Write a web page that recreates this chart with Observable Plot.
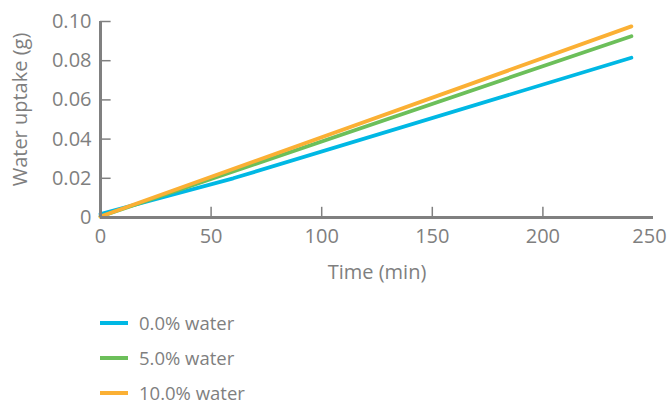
<!DOCTYPE html>
<html>
<head>
<meta charset="utf-8">
<script src="https://cdn.jsdelivr.net/npm/d3@7"></script>
<script src="https://cdn.jsdelivr.net/npm/@observablehq/plot@0.6"></script>
<style>
  html, body { margin: 0; padding: 0; background: #fff; }
  body { width: 669px; height: 405px; overflow: hidden; font-family: "Open Sans", "Noto Sans", sans-serif; }
  #chart svg { display: block; }
  #legend { margin-left: 100px; margin-top: 13px; }
  .item { display: flex; align-items: center; height: 35px; color: #7f7f7f; font-size: 18.5px; }
  .sw { width: 28px; height: 4px; margin-right: 11px; }
</style>
</head>
<body>
<div id="chart"></div>
<div id="legend"></div>
<script>
const seriesNames = ["0.0% water", "5.0% water", "10.0% water"];
const colors = ["#00b8e4", "#6cbf5a", "#fbb034"];
const time0 = [0, 60, 240];
const uptake0 = [0.0018, 0.0200, 0.0815];
const time5 = [0, 240];
const uptake5 = [0.0005, 0.0925];
const time10 = [0, 240];
const uptake10 = [0.0005, 0.0975];
const xTicks = [50, 100, 150, 200];
const xTickLabels = [0, 50, 100, 150, 200];
const xLastLabel = [250];
const yTicks = [0.02, 0.04, 0.06, 0.08, 0.10];
const yTickLabels = [0, 0.02, 0.04, 0.06, 0.08, 0.10];

const rows = [];
[[time0, uptake0], [time5, uptake5], [time10, uptake10]].forEach(([t, u], i) => {
  t.forEach((tv, j) => rows.push({series: seriesNames[i], t: tv, u: u[j]}));
});

const axisColor = "#808080";
const textColor = "#7f7f7f";
const chart = Plot.plot({
  width: 669,
  height: 292,
  marginLeft: 100,
  marginRight: 16,
  marginTop: 21,
  marginBottom: 75,
  style: {fontFamily: "'Open Sans', 'Noto Sans', sans-serif", color: textColor, background: "#fff"},
  x: {domain: [0, 250]},
  y: {domain: [0, 0.1]},
  color: {domain: seriesNames, range: colors},
  marks: [
    Plot.axisX(xTickLabels, {tickSize: 0, tickPadding: 11, fontSize: 20, label: null, fill: textColor}),
    Plot.axisX(xLastLabel, {tickSize: 0, tickPadding: 11, fontSize: 20, label: null, fill: textColor, dx: -4}),
    Plot.axisY(yTickLabels, {tickSize: 0, tickPadding: 9, fontSize: 20, label: null, fill: textColor,
      tickFormat: d => d === 0 ? "0" : d.toFixed(2)}),
    Plot.text(["Time (min)"], {frameAnchor: "bottom", dy: 61, fontSize: 20, fill: textColor}),
    Plot.text(["Water uptake (g)"], {frameAnchor: "left", textAnchor: "middle", dx: -80, dy: -10, rotate: -90, fontSize: 20, fill: textColor}),
    Plot.ruleX(xTicks, {y1: 0, y2: 0.0052, stroke: axisColor, strokeWidth: 1.5}),
    Plot.ruleY(yTicks, {x1: 0, x2: 4.8, stroke: axisColor, strokeWidth: 1.5}),
    Plot.line(rows, {x: "t", y: "u", stroke: "series", strokeWidth: 3.8, z: "series"}),
    Plot.ruleX([0], {y1: 0, y2: 0.1, stroke: axisColor, strokeWidth: 3}),
    Plot.ruleY([0], {x1: 0, x2: 250, stroke: axisColor, strokeWidth: 3})
  ]
});
document.getElementById("chart").appendChild(chart);

const legend = document.getElementById("legend");
seriesNames.forEach((name, i) => {
  const item = document.createElement("div");
  item.className = "item";
  const sw = document.createElement("div");
  sw.className = "sw";
  sw.style.background = colors[i];
  const lab = document.createElement("span");
  lab.textContent = name;
  item.appendChild(sw);
  item.appendChild(lab);
  legend.appendChild(item);
});
</script>
</body>
</html>
